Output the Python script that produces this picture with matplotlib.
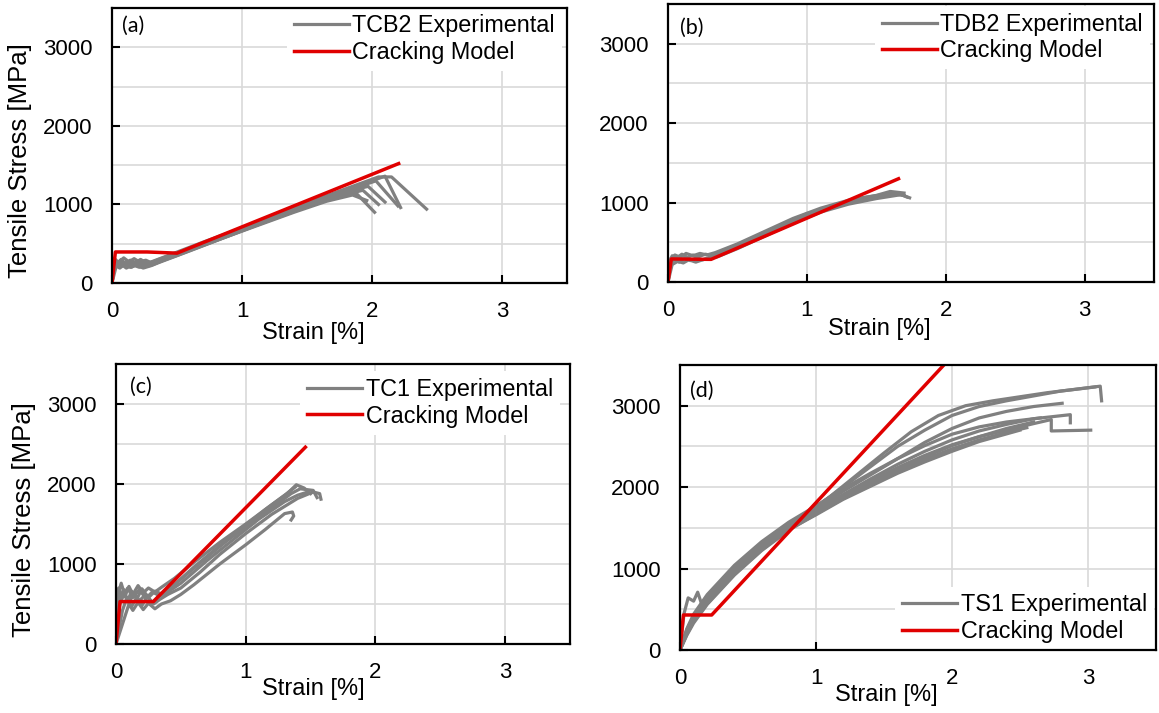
#!/usr/bin/env python3
"""Tensile stress-strain curves vs cracking model, four specimen types"""
import matplotlib
matplotlib.use('Agg')
import matplotlib.pyplot as plt

# ---- data (strain in %, stress in MPa) ----
labels = ['(a)', '(b)', '(c)', '(d)']
exp_names = ['TCB2 Experimental', 'TDB2 Experimental',
             'TC1 Experimental', 'TS1 Experimental']

# cracking model (red) polylines
model_a_x = [0, 0.026, 0.27, 0.5, 2.205]
model_a_y = [0, 395, 395, 380, 1520]
model_b_x = [0, 0.024, 0.31, 1.66]
model_b_y = [0, 290, 285, 1300]
model_c_x = [0, 0.031, 0.288, 1.46]
model_c_y = [0, 530, 530, 2460]
model_d_x = [0, 0.025, 0.233, 1.94]
model_d_y = [0, 430, 430, 3500]

# experimental curves (grey)
exp_a_x = [
    [0, 0.015, 0.04, 0.07, 0.1, 0.14, 0.18, 0.22, 0.27, 0.32, 0.4, 0.7, 1.0, 1.3, 1.6, 1.9, 2.05, 2.15, 2.42],
    [0, 0.02, 0.05, 0.08, 0.12, 0.16, 0.2, 0.25, 0.3, 0.36, 0.5, 0.8, 1.1, 1.4, 1.7, 2.0, 2.1, 2.22],
    [0, 0.02, 0.06, 0.1, 0.15, 0.2, 0.26, 0.31, 0.38, 0.6, 0.9, 1.2, 1.5, 1.8, 2.03, 2.2],
    [0, 0.02, 0.05, 0.09, 0.13, 0.17, 0.21, 0.26, 0.3, 0.36, 0.6, 0.9, 1.2, 1.5, 1.8, 1.97, 2.1],
    [0, 0.02, 0.06, 0.1, 0.14, 0.19, 0.24, 0.3, 0.36, 0.6, 0.9, 1.2, 1.5, 1.75, 1.93, 2.05],
    [0, 0.02, 0.05, 0.08, 0.12, 0.16, 0.2, 0.25, 0.3, 0.38, 0.6, 0.9, 1.2, 1.5, 1.7, 1.88, 2.02],
    [0, 0.03, 0.07, 0.11, 0.16, 0.21, 0.27, 0.33, 0.5, 0.8, 1.1, 1.4, 1.65, 1.85, 1.96],
]
exp_a_y = [
    [0, 290, 250, 300, 240, 290, 260, 300, 250, 280, 330, 520, 700, 890, 1080, 1260, 1350, 1350, 940],
    [0, 260, 220, 280, 230, 270, 220, 250, 230, 270, 360, 540, 730, 910, 1100, 1300, 1360, 960],
    [0, 240, 210, 260, 200, 250, 210, 230, 280, 420, 610, 790, 980, 1170, 1300, 980],
    [0, 310, 260, 320, 270, 310, 270, 290, 260, 300, 440, 630, 810, 990, 1160, 1230, 1030],
    [0, 230, 190, 240, 200, 230, 190, 220, 260, 410, 600, 790, 970, 1110, 1180, 1000],
    [0, 280, 230, 270, 220, 260, 230, 270, 240, 300, 430, 620, 800, 980, 1080, 1140, 900],
    [0, 200, 240, 190, 230, 200, 220, 250, 350, 540, 720, 900, 1040, 1120, 1050],
]
exp_b_x = [
    [0, 0.01, 0.03, 0.06, 0.1, 0.14, 0.18, 0.22, 0.27, 0.32, 0.4, 0.6, 0.8, 1.0, 1.2, 1.4, 1.55, 1.65, 1.72],
    [0, 0.02, 0.05, 0.08, 0.12, 0.16, 0.2, 0.25, 0.3, 0.35, 0.5, 0.7, 0.9, 1.1, 1.3, 1.5, 1.62, 1.7],
    [0, 0.03, 0.07, 0.11, 0.15, 0.2, 0.25, 0.3, 0.36, 0.5, 0.7, 0.9, 1.1, 1.3, 1.5, 1.68, 1.74],
    [0, 0.02, 0.05, 0.09, 0.13, 0.18, 0.23, 0.28, 0.34, 0.5, 0.7, 0.9, 1.1, 1.3, 1.5, 1.6, 1.7],
]
exp_b_y = [
    [0, 200, 330, 300, 350, 310, 340, 320, 350, 330, 390, 540, 700, 860, 960, 1060, 1100, 1120, 1070],
    [0, 250, 280, 250, 300, 270, 300, 280, 310, 320, 440, 600, 760, 900, 1000, 1070, 1110, 1090],
    [0, 220, 260, 240, 280, 250, 280, 300, 320, 420, 580, 740, 880, 980, 1050, 1100, 1060],
    [0, 300, 340, 310, 360, 330, 360, 340, 370, 480, 640, 800, 930, 1030, 1090, 1140, 1120],
]
exp_c_x = [
    [0, 0.02, 0.04, 0.07, 0.1, 0.13, 0.17, 0.21, 0.25, 0.3, 0.36, 0.45, 0.6, 0.8, 1.0, 1.2, 1.32, 1.39, 1.45, 1.5],
    [0, 0.03, 0.06, 0.09, 0.12, 0.16, 0.2, 0.25, 0.3, 0.36, 0.45, 0.6, 0.8, 1.0, 1.2, 1.35, 1.42, 1.52, 1.55],
    [0, 0.05, 0.08, 0.12, 0.16, 0.2, 0.24, 0.29, 0.34, 0.4, 0.5, 0.65, 0.8, 1.0, 1.2, 1.4, 1.52, 1.57, 1.58],
    [0, 0.1, 0.13, 0.17, 0.21, 0.25, 0.3, 0.35, 0.42, 0.5, 0.6, 0.8, 1.0, 1.15, 1.3, 1.36, 1.37, 1.35],
    [0, 0.03, 0.06, 0.1, 0.14, 0.18, 0.23, 0.28, 0.33, 0.4, 0.5, 0.7, 0.9, 1.1, 1.3, 1.4, 1.48],
    [0, 0.02, 0.05, 0.09, 0.13, 0.18, 0.23, 0.28, 0.34, 0.42, 0.55, 0.75, 0.95, 1.15, 1.3, 1.38],
]
exp_c_y = [
    [0, 640, 760, 600, 720, 620, 730, 640, 700, 650, 720, 820, 1020, 1270, 1500, 1740, 1880, 1990, 1950, 1880],
    [0, 560, 680, 540, 660, 560, 690, 580, 660, 620, 740, 960, 1230, 1460, 1700, 1880, 1940, 1920, 1830],
    [0, 420, 560, 470, 580, 480, 590, 500, 560, 620, 700, 900, 1120, 1380, 1620, 1820, 1900, 1880, 1810],
    [0, 500, 420, 520, 430, 510, 440, 500, 540, 620, 740, 1000, 1240, 1430, 1630, 1650, 1600, 1550],
    [0, 500, 620, 520, 640, 540, 620, 520, 600, 650, 760, 1040, 1300, 1560, 1780, 1860, 1900],
    [0, 700, 590, 700, 580, 680, 570, 650, 600, 700, 880, 1150, 1420, 1680, 1860, 1960],
]
exp_d_x = [
    [0, 0.03, 0.06, 0.1, 0.13, 0.16, 0.2, 0.3, 0.5, 0.7, 0.9, 1.1, 1.3, 1.5, 1.7, 1.9, 2.1, 2.3, 2.5, 2.7, 2.9, 3.09, 3.1],
    [0, 0.05, 0.1, 0.2, 0.4, 0.6, 0.8, 1.0, 1.2, 1.4, 1.6, 1.8, 2.0, 2.2, 2.4, 2.6, 2.8, 3.05],
    [0, 0.05, 0.1, 0.2, 0.4, 0.6, 0.8, 1.0, 1.2, 1.4, 1.6, 1.8, 2.0, 2.2, 2.4, 2.6, 2.81],
    [0, 0.05, 0.1, 0.2, 0.4, 0.6, 0.8, 1.0, 1.2, 1.4, 1.6, 1.8, 2.0, 2.2, 2.4, 2.6, 2.87, 2.87],
    [0, 0.05, 0.1, 0.2, 0.4, 0.6, 0.8, 1.0, 1.2, 1.4, 1.6, 1.8, 2.0, 2.2, 2.4, 2.6, 2.73, 2.73, 3.02],
    [0, 0.05, 0.1, 0.2, 0.4, 0.6, 0.8, 1.0, 1.2, 1.4, 1.6, 1.8, 2.0, 2.2, 2.4, 2.55],
    [0, 0.05, 0.1, 0.2, 0.4, 0.6, 0.8, 1.0, 1.2, 1.4, 1.6, 1.8, 2.0, 2.2, 2.4, 2.6],
    [0, 0.05, 0.1, 0.2, 0.4, 0.6, 0.8, 1.0, 1.2, 1.4, 1.6, 1.8, 2.0, 2.2, 2.5],
    [0, 0.05, 0.1, 0.2, 0.4, 0.6, 0.8, 1.0, 1.2, 1.4, 1.6, 1.8, 2.0, 2.2, 2.4, 2.65],
]
exp_d_y = [
    [0, 450, 640, 600, 710, 560, 620, 780, 1100, 1380, 1620, 1880, 2150, 2420, 2680, 2880, 3000, 3060, 3110, 3160, 3200, 3240, 3060],
    [0, 250, 420, 650, 1000, 1300, 1550, 1760, 2000, 2250, 2500, 2700, 2880, 2990, 3060, 3120, 3180, 3230],
    [0, 230, 400, 620, 980, 1280, 1530, 1730, 1950, 2150, 2350, 2550, 2720, 2850, 2930, 2990, 3030],
    [0, 220, 380, 600, 960, 1260, 1510, 1710, 1910, 2100, 2280, 2440, 2580, 2690, 2770, 2840, 2890, 2790],
    [0, 200, 360, 580, 940, 1240, 1490, 1690, 1890, 2070, 2240, 2390, 2520, 2620, 2700, 2780, 2830, 2690, 2700],
    [0, 180, 330, 560, 920, 1220, 1470, 1670, 1860, 2030, 2190, 2340, 2470, 2580, 2670, 2730],
    [0, 210, 370, 600, 970, 1270, 1500, 1690, 1880, 2060, 2220, 2370, 2510, 2620, 2720, 2800],
    [0, 190, 350, 570, 930, 1230, 1480, 1660, 1850, 2010, 2170, 2310, 2440, 2560, 2700],
    [0, 260, 440, 680, 1040, 1330, 1570, 1770, 1980, 2170, 2350, 2510, 2650, 2740, 2800, 2850],
]

x_ticks = [0, 1, 2, 3]
y_ticks = [0, 1000, 2000, 3000]

GREY = '#808080'
RED = '#e00000'

plt.rcParams['font.family'] = ['Liberation Sans', 'DejaVu Sans']

W, H = 1159, 713
fig = plt.figure(figsize=(W / 100, H / 100), dpi=100)


def box(left, top, right, bottom):
    " pixel box -> figure fraction rect "
    return [left / W, 1 - bottom / H, (right - left) / W, (bottom - top) / H]


rects = [box(112, 8, 567, 283), box(668, 4, 1154, 282),
         box(116, 364, 570, 644), box(680, 365, 1156, 650)]
models = [(model_a_x, model_a_y), (model_b_x, model_b_y),
          (model_c_x, model_c_y), (model_d_x, model_d_y)]
exps = [(exp_a_x, exp_a_y), (exp_b_x, exp_b_y),
        (exp_c_x, exp_c_y), (exp_d_x, exp_d_y)]
xlabel_pos = [(0.442, -0.182), (0.434, -0.17), (0.434, -0.16), (0.433, -0.158)]
label_pos = [(0.022, 0.935), (0.025, 0.915), (0.031, 0.92), (0.021, 0.908)]
legend_anchor = [(0.989, 1.003), (0.992, 0.993), (0.978, 0.975), (0.996, 0.0)]

for i in range(4):
    ax = fig.add_axes(rects[i])
    ex, ey = exps[i]
    for j in range(len(ex)):
        lg, = ax.plot(ex[j], ey[j], color=GREY, lw=2.3, solid_joinstyle='round')
    lr, = ax.plot(models[i][0], models[i][1], color=RED, lw=2.5)

    ax.set_xlim(0, 3.5)
    ax.set_ylim(0, 3500)
    ax.set_xticks(x_ticks)
    ax.set_yticks(y_ticks)
    ax.set_yticks([500, 1500, 2500], minor=True)
    ax.grid(True, which='both', color='#d9d9d9', lw=1.2)
    ax.set_axisbelow(True)
    ax.tick_params(which='major', direction='in', length=6, width=1.5,
                   labelsize=16)
    ax.tick_params(axis='x', pad=13)
    ax.tick_params(axis='y', pad=14)
    ax.tick_params(axis='y', which='minor', length=0)
    for s in ax.spines.values():
        s.set_linewidth(1.6)

    ax.set_xlabel('Strain [%]', fontsize=17)
    ax.xaxis.set_label_coords(*xlabel_pos[i])
    ax.xaxis.label.set_va('center')
    if i % 2 == 0:
        ax.set_ylabel('Tensile Stress [MPa]', fontsize=18.5)
        ax.yaxis.set_label_coords(-0.202, 0.445)
        ax.yaxis.label.set_va('center')

    ax.text(*label_pos[i], labels[i], transform=ax.transAxes, fontsize=15.5,
            family=['Lato', 'DejaVu Sans'], ha='left', va='center')

    loc = 'lower right' if i == 3 else 'upper right'
    leg = ax.legend([lg, lr], [exp_names[i], 'Cracking Model'], loc=loc,
                    bbox_to_anchor=legend_anchor[i], borderaxespad=0,
                    frameon=True, facecolor='white', edgecolor='none',
                    framealpha=1, fancybox=False, fontsize=16.8,
                    handlelength=2.36, handletextpad=0.15,
                    labelspacing=0.15, borderpad=0.3)
    leg.set_zorder(2.4)

fig.savefig('out.png', dpi=100)
